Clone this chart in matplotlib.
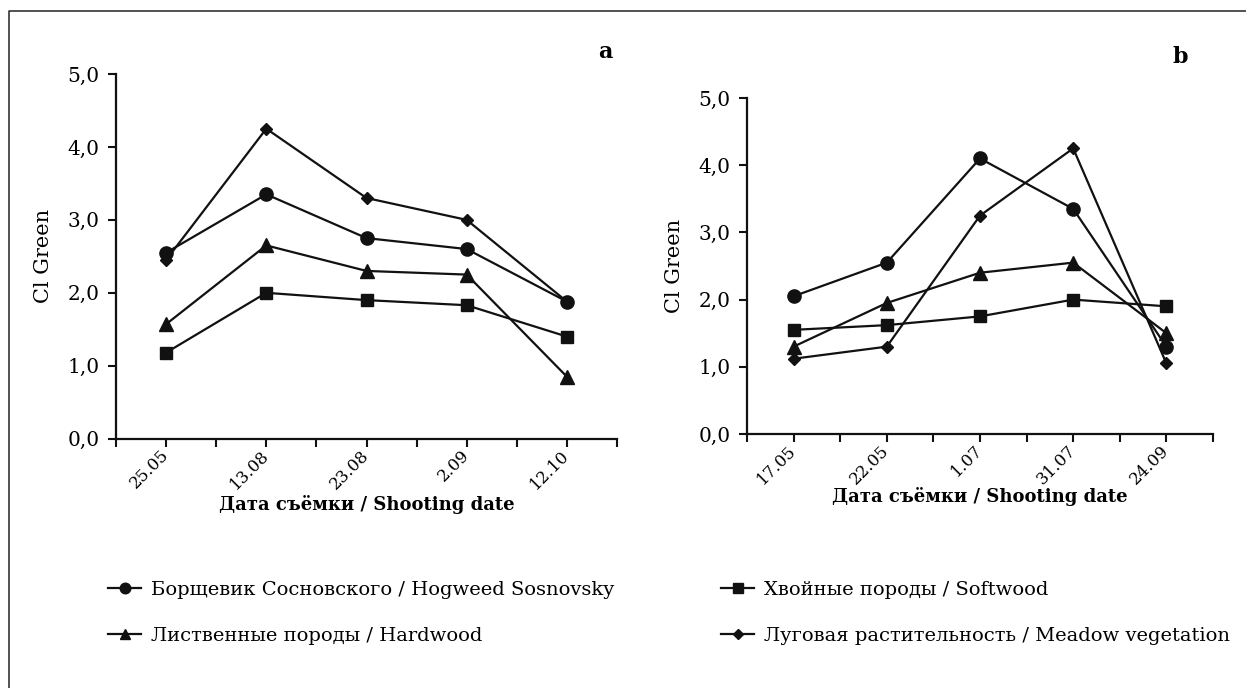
import numpy as np
import matplotlib
matplotlib.use('Agg')
from matplotlib import pyplot as plt
from matplotlib.lines import Line2D

plt.rcParams['font.family'] = ['DejaVu Serif']

# panel a
dates_a = ['25.05', '13.08', '23.08', '2.09', '12.10']
hogweed_a = [2.55, 3.35, 2.75, 2.60, 1.88]
softwood_a = [1.18, 2.00, 1.90, 1.83, 1.40]
hardwood_a = [1.57, 2.65, 2.30, 2.25, 0.85]
meadow_a = [2.45, 4.25, 3.30, 3.00, 1.88]

# panel b
dates_b = ['17.05', '22.05', '1.07', '31.07', '24.09']
hogweed_b = [2.05, 2.55, 4.10, 3.35, 1.30]
softwood_b = [1.55, 1.62, 1.75, 2.00, 1.90]
hardwood_b = [1.30, 1.95, 2.40, 2.55, 1.50]
meadow_b = [1.12, 1.30, 3.25, 4.25, 1.05]

names = ['Борщевик Сосновского / Hogweed Sosnovsky',
         'Хвойные породы / Softwood',
         'Лиственные породы / Hardwood',
         'Луговая растительность / Meadow vegetation']
markers = ['o', 's', '^', 'D']
msizes = [9.5, 8.5, 9.5, 6]
yticks = [0, 1, 2, 3, 4, 5]

fig = plt.figure(figsize=(12.46, 6.88), dpi=100)
ax_a = fig.add_axes([116/1246, 1-438.7/688, 501/1246, 364.7/688])
ax_b = fig.add_axes([747/1246, 1-434/688, 466/1246, 336/688])


def draw(ax, dates, series, letter, letter_xy, xlab_y):
    x = np.arange(len(dates))
    for vals, m, ms in zip(series, markers, msizes):
        ax.plot(x, vals, color='#111111', lw=1.6, marker=m, ms=ms,
                clip_on=False)
    ax.set_xlim(-0.5, len(dates) - 0.5)
    ax.set_ylim(0, 5)
    ax.set_yticks(yticks)
    ax.set_yticklabels([f'{v:.1f}'.replace('.', ',') for v in yticks],
                       fontsize=14.5)
    ax.set_xticks(x)
    ax.set_xticklabels(dates, rotation=45, ha='right', va='center',
                       rotation_mode='anchor', fontsize=12)
    ax.set_xticks(np.arange(-0.5, len(dates)), minor=True)
    ax.tick_params(axis='both', which='both', direction='out', length=6,
                   width=1.5, color='#111111')
    ax.tick_params(axis='x', which='major', pad=4)
    ax.tick_params(axis='y', pad=6)
    for s in ['top', 'right']:
        ax.spines[s].set_visible(False)
    for s in ['left', 'bottom']:
        ax.spines[s].set_linewidth(1.6)
        ax.spines[s].set_color('#111111')
    ax.set_ylabel('Cl Green', fontsize=15, labelpad=10)
    pos = ax.get_position()
    fig.text((pos.x0 + pos.x1) / 2, 1 - xlab_y/688,
             'Дата съёмки / Shooting date', ha='center', va='center',
             fontsize=13, fontweight='bold')
    fig.text(letter_xy[0]/1246, 1 - letter_xy[1]/688, letter,
             ha='center', va='center', fontsize=16, fontweight='bold')


draw(ax_a, dates_a, [hogweed_a, softwood_a, hardwood_a, meadow_a],
     'a', (605, 52), 505)
draw(ax_b, dates_b, [hogweed_b, softwood_b, hardwood_b, meadow_b],
     'b', (1180, 57), 496)

handles = [Line2D([], [], color='#111111', lw=1.6, marker=m, ms=ms * 0.8)
           for m, ms in zip(markers, msizes)]
leg_kw = dict(frameon=False, fontsize=14, handlelength=1.7,
              handletextpad=0.5, labelspacing=1.45, borderpad=0,
              borderaxespad=0, loc='upper left')
fig.legend([handles[0], handles[2]], [names[0], names[2]],
           bbox_to_anchor=(108/1246, 1 - 581/688), **leg_kw)
fig.legend([handles[1], handles[3]], [names[1], names[3]],
           bbox_to_anchor=(721/1246, 1 - 581/688), **leg_kw)

# outer frame (top and left edges visible)
fig.add_artist(Line2D([9/1246, 9/1246, 1], [0, 1 - 11/688, 1 - 11/688],
                      transform=fig.transFigure, color='#333333', lw=1.2))

fig.savefig('out.png', dpi=100)
